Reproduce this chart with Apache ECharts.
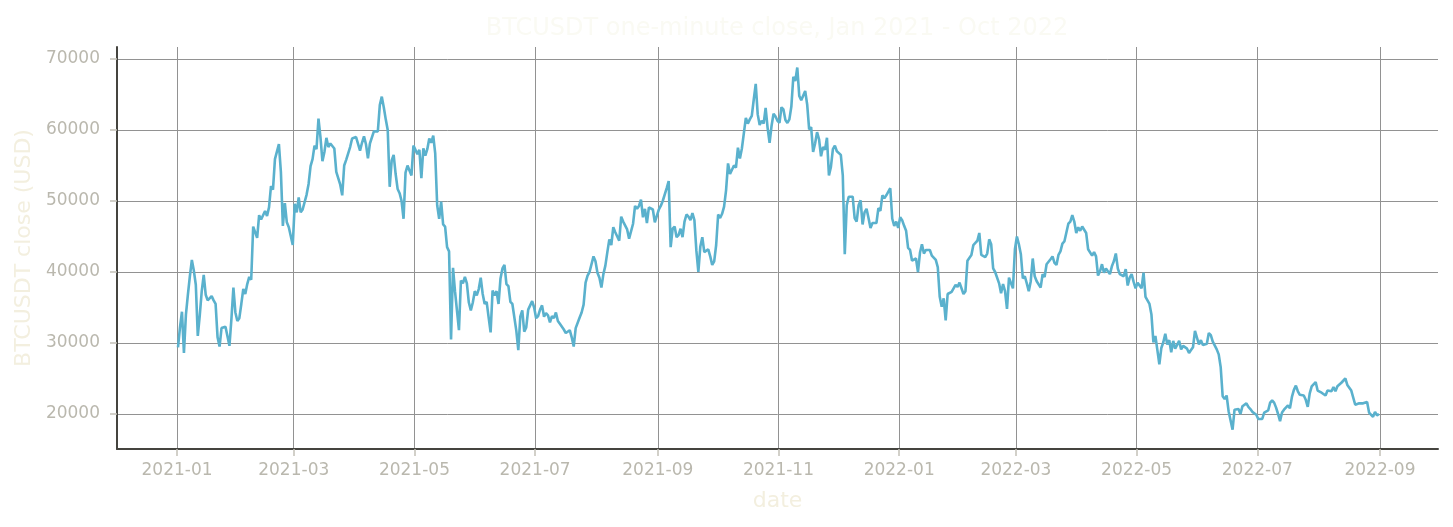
<!DOCTYPE html>
<html>
<head>
<meta charset="utf-8">
<script src="https://cdn.jsdelivr.net/npm/echarts@6/dist/echarts.min.js"></script>
<style>html,body{margin:0;padding:0;background:#fff;}#chart{width:1453px;height:527px;}</style>
</head>
<body>
<div id="chart"></div>
<script>
// Daily values (one per day, 2021-01-01 .. 2021-12-31)
const close2021 = [
29400,32200,34400,28600,34000,36800,39400,41700,40200,38200,31000,33900,37300,39600,36800,36000,35800,36600,36000,35500,30800,29500,32100,32300,32300,32500,29600,33400,37800,34300,33100,
33500,35500,37600,36900,38300,39300,38900,46400,46500,44800,48000,47400,47200,48600,47900,49100,52100,51600,55900,55800,58000,54100,46500,49700,47000,46300,46200,43800,
49600,48400,50500,48400,48800,48900,50900,52400,54900,55900,57800,57300,61600,59000,55600,56900,58900,57600,58100,58100,57400,54100,54300,52300,50800,55000,55800,55800,57600,58800,58800,
59000,59100,57100,58200,59100,58000,56000,58100,58100,59800,59900,59800,63500,64700,63200,61500,60000,52000,55700,56500,53800,51700,51100,50000,47500,54000,55000,54800,53600,57800,
57800,56600,57200,53200,57400,56400,57300,58800,58200,59200,56700,49400,47500,49900,46700,46400,43500,42900,30500,40600,37300,37500,31800,38800,38400,39300,38400,35700,34600,35700,37300,
36700,37600,39200,36900,35500,35800,33600,31500,37400,36700,37300,35500,39100,40500,41000,38300,38000,35800,35500,35600,31700,29000,33700,34600,31600,32200,34700,34500,35900,35000,
33500,33800,34700,35300,33700,34200,33900,32900,33800,33500,34300,33100,32700,32800,31900,31400,31500,31800,30800,29500,32100,32300,33600,34300,35400,38500,39500,40000,40000,42200,41500,
39900,39200,37800,39700,40900,42800,44600,43800,46300,45600,45600,44400,47800,47100,47000,46000,44700,44700,46800,49300,48900,49300,50200,47700,48900,46900,49100,48900,48800,47000,47100,
48800,49300,50000,49900,51800,52800,43500,46100,46400,44900,45200,46100,44900,47100,48100,47800,47300,48300,47300,43000,40000,43600,44900,42800,42700,43200,42200,41000,41500,43800,
48100,47600,48200,49200,51500,55300,53800,53900,55000,54700,57500,56000,57400,57400,61700,60900,61500,62000,64300,66500,62200,60700,61300,60900,63100,60300,58200,60600,62300,61900,61300,
61000,63200,62900,61400,61000,61500,63300,67500,66900,68800,64800,64200,64400,65500,63600,60100,60400,56900,58100,59700,58700,56300,57600,57200,58900,53600,54800,57300,57800,57000,
56900,56500,53600,42500,49400,50600,50500,50600,47600,47100,49400,50100,46700,48400,48900,47600,46200,46900,46700,46900,49000,48600,50800,50400,50800,50700,51800,47500,46500,47100,46200
];
// Daily values (2022-01-01 .. 2022-08-31)
const close2022 = [
47700,47300,46500,45800,43400,43100,41600,41800,41900,40000,42700,43900,42600,43100,43200,43100,42300,42400,41700,40700,36500,35100,36300,33200,36900,36800,37200,37700,38200,37900,38500,
38700,36900,37300,41600,41400,42400,43800,44100,44400,45500,42400,42200,42100,42600,44600,43900,40500,40000,40100,38400,37000,38300,37300,34800,39200,39100,37700,43200,
45000,43900,42500,39100,39400,38400,37300,38700,41900,39400,38700,38800,37800,39700,39300,41100,40900,41800,42200,41300,41000,42400,42900,44000,44300,44500,46800,47100,48000,47100,45500,
46300,45800,46400,46600,45500,43200,43400,42300,42800,42200,39500,40100,41100,39900,40500,40400,39700,40800,41500,42600,40500,39700,39500,39400,40400,38100,39200,39700,38600,37700,
38500,38500,37700,39900,36500,36000,35500,34000,30100,31000,29000,27000,29300,30100,31300,29800,30400,28700,30300,29200,29400,30300,29100,29600,29500,29200,28600,29000,29400,31700,31800,
29800,30400,29700,29800,29900,31400,31100,30200,30100,29100,28400,26600,22500,22100,22600,20400,20500,17800,20600,20600,20700,20000,21100,21200,21500,21000,20700,20300,20100,19900,
19300,19300,19300,20200,20200,20500,21600,21900,21600,20900,20000,19000,20200,20600,20800,21200,20800,22400,23400,24000,23200,22700,22500,22600,22000,21000,22900,23900,23800,24500,23300,
23300,23000,22800,22600,23300,23200,23200,23800,23200,23900,23900,24400,24400,25000,24100,23900,23300,23200,21300,21100,21500,21400,21500,21400,21700,20200,20000,19600,20300,19800,20000
];
const startDate = '2021-01-01';
const xTickLabels = ['2021-01','2021-03','2021-05','2021-07','2021-09','2021-11','2022-01','2022-03','2022-05','2022-07','2022-09'];
const yTicks = [20000, 30000, 40000, 50000, 60000, 70000];
const titleText = 'BTCUSDT one-minute close, Jan 2021 - Oct 2022';
const xName = 'date';
const yName = 'BTCUSDT close (USD)';

const DAY = 86400000;
const t0 = Date.parse(startDate + 'T12:00:00Z');
const values = close2021.concat(close2022);
const seriesData = values.map((v, i) => [t0 + i * DAY, v]);
const xTicks = xTickLabels.map(s => Date.parse(s + '-01T00:00:00Z'));
const pad = n => (n < 10 ? '0' : '') + n;

const chart = echarts.init(document.getElementById('chart'), null, {renderer: 'canvas'});
chart.setOption({
  animation: false,
  backgroundColor: '#ffffff',
  title: {
    text: titleText,
    left: 772, top: 12, textAlign: 'center',
    textStyle: {color: '#fafaf3', fontSize: 24, fontWeight: 'normal', fontFamily: 'DejaVu Sans'}
  },
  grid: {left: 117, right: 15, top: 47, bottom: 78, containLabel: false},
  xAxis: {
    type: 'value',
    min: Date.parse('2020-12-01T16:00:00Z'),
    max: Date.parse('2022-09-30T08:00:00Z'),
    name: xName, nameLocation: 'middle', nameGap: 41,
    nameTextStyle: {color: '#f3efdf', fontSize: 22, fontFamily: 'DejaVu Sans'},
    axisLine: {show: true, onZero: false, lineStyle: {color: '#45443f', width: 2}},
    axisTick: {show: true, customValues: xTicks, length: 7, lineStyle: {color: '#c4c1b8', width: 1.5}},
    axisLabel: {
      customValues: xTicks, margin: 13, color: '#bab8ae', fontSize: 17, fontFamily: 'DejaVu Sans',
      formatter: v => { const d = new Date(v); return d.getUTCFullYear() + '-' + pad(d.getUTCMonth() + 1); }
    },
    splitLine: {show: true, lineStyle: {color: '#929292', width: 1}}
  },
  yAxis: {
    type: 'value', min: 15070, max: 71690,
    name: yName, nameLocation: 'middle', nameGap: 74, nameRotate: 90,
    nameTextStyle: {color: '#f3efdf', fontSize: 22, fontFamily: 'DejaVu Sans'},
    axisLine: {show: true, lineStyle: {color: '#45443f', width: 2}},
    axisTick: {show: true, customValues: yTicks, length: 7, lineStyle: {color: '#c4c1b8', width: 1.5}},
    axisLabel: {customValues: yTicks, margin: 17, color: '#bab8ae', fontSize: 17, fontFamily: 'DejaVu Sans',
      padding: [4, 0, 0, 0], formatter: v => String(v)},
    splitLine: {show: true, lineStyle: {color: '#929292', width: 1}}
  },
  series: [{
    type: 'line', data: seriesData, showSymbol: false, symbol: 'none',
    lineStyle: {color: '#5ab1cd', width: 2.6}, itemStyle: {color: '#5ab1cd'}
  }]
});
</script>
</body>
</html>
